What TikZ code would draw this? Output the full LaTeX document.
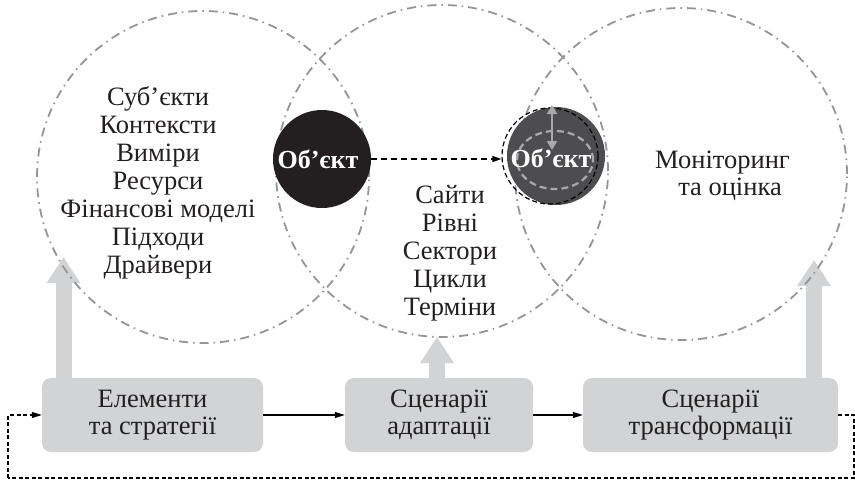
\documentclass[tikz,border=0pt]{standalone}
\usepackage{fontspec}
\setmainfont{Liberation Serif}
\usetikzlibrary{arrows.meta,shapes.geometric}
\definecolor{circgray}{HTML}{939598}
\definecolor{boxgray}{HTML}{D1D3D4}
\definecolor{objdark}{HTML}{231F20}
\definecolor{objgray}{HTML}{4D4D4F}
\definecolor{ringgray}{HTML}{A7A9AC}
\definecolor{txtcol}{HTML}{231F20}
\tikzset{
  bigcirc/.style={circle, draw=circgray, line width=1.8pt, inner sep=0pt,
    dash pattern=on 9pt off 5pt on 1.5pt off 5pt},
  txt/.style={align=center, inner sep=0pt, text=txtcol, font=\fontsize{26.5}{28}\selectfont},
  objtxt/.style={text=white, inner sep=0pt, font=\fontsize{26}{28}\selectfont\bfseries},
  stagebox/.style={rounded corners=9pt, fill=boxgray, minimum height=74pt,
    align=center, inner sep=0pt, text=txtcol, font=\fontsize{26.5}{27}\selectfont},
  bigarrow/.style={draw=boxgray, line width=16pt,
    -{Triangle[width=32pt,length=26pt,fill=boxgray]}},
  flowarrow/.style={line width=1.2pt, -{Triangle[width=6pt,length=10pt]}},
  fbline/.style={line width=1.2pt, dash pattern=on 4pt off 2.5pt},
}
\begin{document}
\begin{tikzpicture}[x=1pt,y=-1pt]
\useasboundingbox (0,0) rectangle (855,482);

% boxes
\node[stagebox, minimum width=221pt] (box1) at (152.5,415) {Елементи\\та стратегії};
\node[stagebox, minimum width=188pt] (box2) at (439,415) {Сценарії\\адаптації};
\node[stagebox, minimum width=255pt] (box3) at (710.5,415) {Сценарії\\трансформації};

% big gray arrows
\coordinate (t1) at (63.5,257);
\coordinate (t2) at (437,337);
\coordinate (t3) at (814,260);
\draw[bigarrow] (t1 |- box1.north) -- (t1);
\draw[bigarrow] (t2 |- box2.north) -- (t2);
\draw[bigarrow] (t3 |- box3.north) -- (t3);

% circles
\node[bigcirc, minimum size=332pt] (c1) at (203,177) {};
\node[bigcirc, minimum size=332pt] (c2) at (442,171) {};
\node[bigcirc, minimum size=332pt] (c3) at (681,174) {};

% texts in circles
\node[txt] (t1txt) at (158,183) {Суб’єкти\\Контексти\\Виміри\\Ресурси\\Фінансові моделі\\Підходи\\Драйвери};
\node[txt] (t2txt) at (450,253) {Сайти\\Рівні\\Сектори\\Цикли\\Терміни};
\node[txt, font=\fontsize{26.5}{26.5}\selectfont] (t3txt) at (722.5,176) {Моніторинг\\\hspace*{15pt}та оцінка};

% objects
\node[circle, fill=objdark, minimum size=98pt, inner sep=0pt] (obj1) at (322,159) {};
\node[objtxt] (obj1txt) at (318,159) {Об’єкт};

\node[circle, fill=objgray, minimum size=98pt, inner sep=0pt] (obj2) at (556,156) {};
\node[ellipse, draw=ringgray, line width=2.2pt, dash pattern=on 7pt off 4pt, minimum width=76pt, minimum height=58pt, inner sep=0pt] (ring) at (555,160) {};
\node[circle, draw=black, line width=1.2pt, dash pattern=on 5pt off 3pt, minimum size=96pt, inner sep=0pt] (obj2rim) at (550,156) {};
\coordinate (dtop) at (552,105);
\coordinate (dbot) at (552,150);
\draw[ringgray, line width=2.2pt, {Triangle[width=10pt,length=9pt]}-{Triangle[width=10pt,length=9pt]}] (dtop) -- (dbot);
\node[objtxt] (obj2txt) at (551,158) {Об’єкт};

% dashed arrow between objects
\draw[line width=1.2pt, dash pattern=on 6pt off 4pt, -{Triangle[width=6pt,length=9pt]}] (obj1.east) -- (obj2rim.west |- obj1.east);

% flow arrows
\draw[flowarrow] (box1.east) -- (box2.west);
\draw[flowarrow] (box2.east) -- (box3.west);

% feedback loop
\coordinate (fbR) at (854,478);
\coordinate (fbL) at (8,478);
\draw[fbline] (box3.east) -| (fbR) -- (fbL);
\draw[fbline, -{Triangle[width=6pt,length=10pt]}] (fbL) |- (box1.west);
\end{tikzpicture}
\end{document}
